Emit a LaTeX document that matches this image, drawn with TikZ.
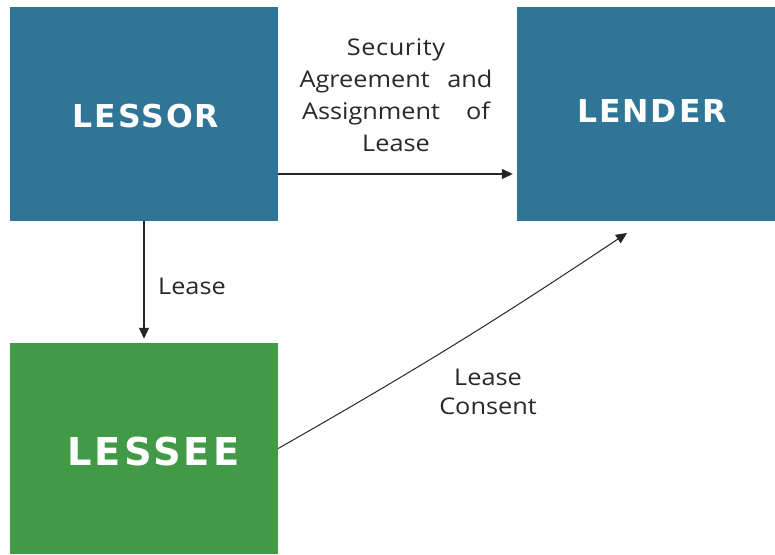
\documentclass[tikz,border=0pt]{standalone}
\usepackage{fontspec}
\setmainfont[FakeStretch=1.1]{Open Sans}
\newfontfamily\boxfont[LetterSpace=6]{DejaVu Sans}
\newfontfamily\boxfontwide[LetterSpace=8]{DejaVu Sans}
\newfontfamily\spacedfont[FakeStretch=1.1,LetterSpace=2.5]{Open Sans}
\usetikzlibrary{arrows.meta}
\definecolor{boxblue}{RGB}{46,117,152}
\definecolor{boxgreen}{RGB}{65,154,69}
\definecolor{txt}{RGB}{40,40,40}
\begin{document}
\begin{tikzpicture}[x=1pt,y=1pt,
  box/.style={draw=none, inner sep=0pt},
  boxtext/.style={text=white, inner sep=0pt, font=\boxfont\bfseries\fontsize{31.5}{36}\selectfont},
  conn/.style={draw=black!85, line width=1.3pt, -{Triangle[length=11pt,width=10pt]}},
  lbl/.style={text=txt, align=center, inner sep=0pt, font=\fontsize{23}{30}\selectfont}]
\useasboundingbox (0,0) rectangle (775,554);
% boxes
\node[box, fill=boxblue, minimum width=268pt, minimum height=214pt] (lessor) at (144,440) {};
\node[box, fill=boxblue, minimum width=258pt, minimum height=214pt] (lender) at (646,440) {};
\node[box, fill=boxgreen, minimum width=268pt, minimum height=211pt] (lessee) at (144,105.5) {};
\node[boxtext] (lessortext) at (146,438) {LESSOR};
\node[boxtext] (lendertext) at (652,443) {LENDER};
\node[boxtext, font=\boxfontwide\bfseries\fontsize{38.4}{44}\selectfont] (lesseetext) at (153.5,102) {LESSEE};
% connectors
\coordinate (hline) at (0,380);
\coordinate (lendtip) at (627,321);
\draw[conn, shorten >=4pt] (lessor.east |- hline) -- (lender.west |- hline);
\draw[conn, shorten >=4pt] (lessor.south) -- (lessee.north);
\draw[conn, line width=1pt] (lessee.east) to[bend right=2] (lendtip);
% labels
\node[lbl, font=\fontsize{23}{32}\selectfont] (seclbl) at (396,459)
  {{\spacedfont Security}\\\makebox[193pt][s]{Agreement and}\\\makebox[188pt][s]{Assignment of}\\Lease};
\node[lbl] (leaselbl) at (192,268) {Lease};
\node[lbl, font=\fontsize{23}{29}\selectfont] (consentlbl) at (488,162) {Lease\\Consent};
\end{tikzpicture}
\end{document}
